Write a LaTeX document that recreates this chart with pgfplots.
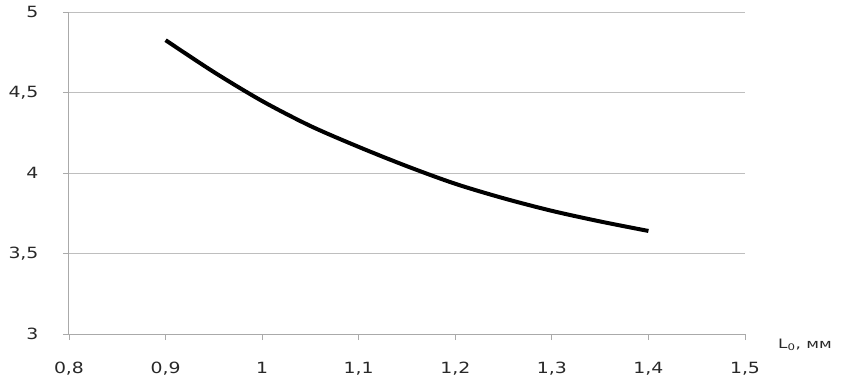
\documentclass[border=0pt]{standalone}
\usepackage{fontspec}
\setmainfont{DejaVu Sans}
\usepackage{graphicx}
\usepackage{pgfplots}
\pgfplotsset{compat=1.18}
\definecolor{gridgray}{RGB}{190,190,190}
\definecolor{axgray}{RGB}{170,170,170}
\definecolor{txt}{RGB}{40,40,40}
\begin{document}
\begin{tikzpicture}
\begin{axis}[
  scale only axis,
  width=676bp, height=322bp,
  xmin=0.8, xmax=1.5, ymin=3, ymax=5,
  xtick={0.8,0.9,...,1.5},
  ytick={3,3.5,4,4.5,5},
  axis x line*=bottom, axis y line*=left,
  axis line style={-, axgray, line width=1bp},
  ymajorgrids,
  major grid style={gridgray, line width=0.9bp},
  tick align=outside,
  major tick length=6bp,
  tick style={axgray, line width=0.9bp},
  /pgf/number format/.cd, fixed, precision=1, use comma, assume math mode=true,
  /pgfplots/.cd,
  ticklabel style={font=\fontsize{15.5}{17}\selectfont, text=txt},
  xticklabel={\scalebox{1.22}[1]{\pgfmathprintnumber{\tick}}},
  yticklabel={\scalebox{1.22}[1]{\pgfmathprintnumber{\tick}}},
  yticklabel style={xshift=-21bp},
  xticklabel style={yshift=-19bp},
  clip=false,
]
\addplot[black, line width=4bp, smooth] coordinates {
(0.9,4.825) (0.95,4.627) (1.0,4.447) (1.05,4.292) (1.1,4.162) (1.15,4.042)
(1.2,3.933) (1.25,3.843) (1.3,3.765) (1.35,3.699) (1.4,3.64)
};
\node[anchor=west, font=\fontsize{13}{15}\selectfont, text=txt, inner sep=0pt] at (axis cs:1.5,3) [xshift=33bp, yshift=-11bp] {\scalebox{1.3}[1]{L\textsubscript{0}, мм}};
\path (rel axis cs:0,0) ++(-69bp,-48bp) coordinate (bbA);
\path (rel axis cs:1,1) ++(106bp,12bp) coordinate (bbB);
\end{axis}
\end{tikzpicture}
\end{document}
